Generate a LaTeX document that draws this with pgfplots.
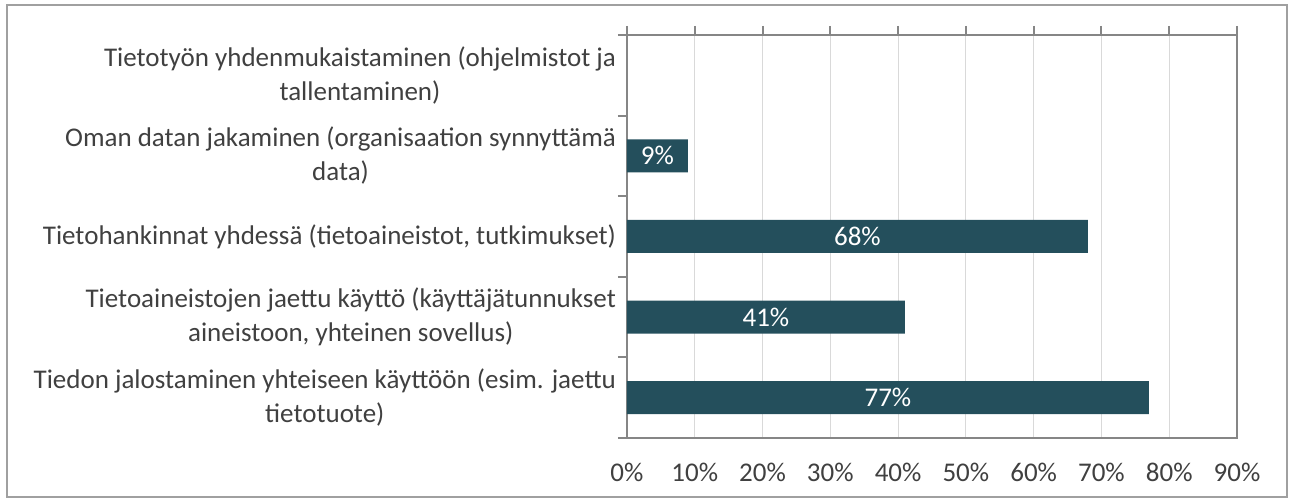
\documentclass[border=0pt]{standalone}
\usepackage{pgfplots}
\pgfplotsset{compat=1.18}
\usepackage{fontspec}
\setmainfont{Carlito}
\definecolor{barc}{HTML}{244F5C}
\definecolor{txt}{HTML}{404040}
\definecolor{axc}{HTML}{868686}
\definecolor{grd}{HTML}{D9D9D9}
\definecolor{frm}{HTML}{A0A0A0}
\begin{document}
\begin{tikzpicture}
\begin{axis}[
  name=ax,
  at={(0,0)}, anchor=south west,
  scale only axis,
  width=305pt, height=201.5pt,
  xbar, bar width=16.5pt,
  xmin=0, xmax=90,
  ymin=-0.5, ymax=4.5,
  xtick={0,10,...,90},
  xtick pos=upper,
  xticklabel pos=lower,
  xticklabel={\pgfmathprintnumber{\tick}\%},
  /pgf/number format/assume math mode=true,
  xticklabel style={yshift=-9pt, text=txt},
  xmajorgrids, major grid style={grd, line width=0.6pt},
  ytick={0,1,2,3,4},
  yticklabels={{Tiedon jalostaminen yhteiseen käyttöön (esim. jaettu\\tietotuote)},
               {Tietoaineistojen jaettu käyttö (käyttäjätunnukset\\aineistoon, yhteinen sovellus)},
               {Tietohankinnat yhdessä (tietoaineistot, tutkimukset)},
               {Oman datan jakaminen (organisaation synnyttämä\\data)},
               {Tietotyön yhdenmukaistaminen (ohjelmistot ja\\tallentaminen)}},
  yticklabel style={align=center, text=txt, font=\fontsize{13.5}{17}\selectfont, xshift=-2pt},
  ytick pos=left,
  major tick length=0pt,
  minor ytick={-0.5,0.5,...,4.5},
  minor x tick num=0,
  tick align=outside,
  minor tick length=4.5pt,
  every tick/.style={axc, line width=1pt},
  extra x ticks={0,10,...,90},
  extra x tick labels={},
  extra x tick style={major tick length=4.5pt, xtick pos=upper, grid=none},
  axis line style={axc, line width=1pt},
  tick label style={font=\fontsize{13.5}{17}\selectfont},
  visualization depends on={rawx \as \rawx},
  nodes near coords={\pgfmathprintnumber{\pgfplotspointmeta}\%},
  every node near coord/.append style={anchor=center, text=white, font=\fontsize{13.5}{17}\selectfont, xshift={-\rawx*1.69444pt}},
  point meta=x,
]
\addplot[fill=barc, draw=none] coordinates {(77,0) (41,1) (68,2) (9,3)};
\end{axis}
\draw[frm, line width=0.8pt] (-310pt,-29.5pt) rectangle (330pt,216.5pt);
\path (-313.5pt,-32.5pt) rectangle (331.5pt,219pt);
\end{tikzpicture}
\end{document}
